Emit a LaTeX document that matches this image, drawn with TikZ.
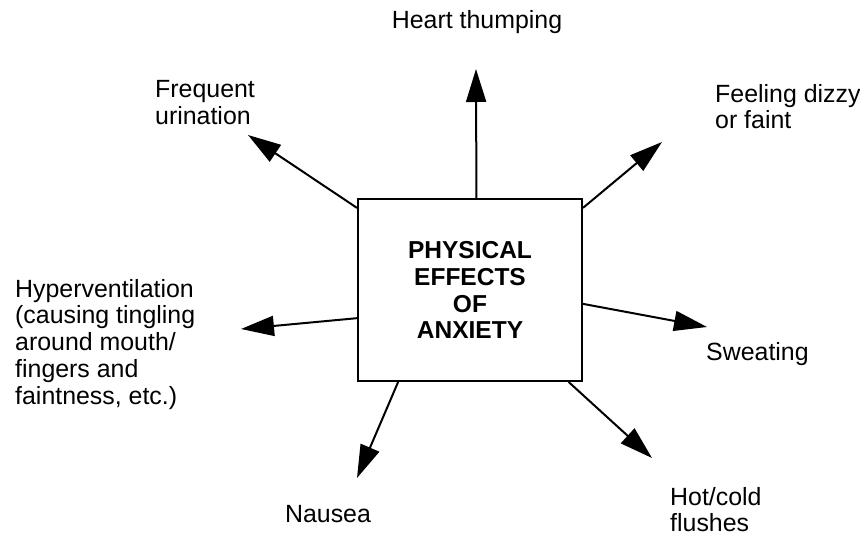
\documentclass[tikz,border=0pt]{standalone}
\usepackage{fontspec}
\setmainfont{Liberation Sans}
\usetikzlibrary{arrows.meta, positioning, calc}
\tikzset{
    effectbox/.style={
        rectangle, minimum width=224bp, minimum height=182bp,
        draw=black, line width=2bp, align=center,
        font=\fontsize{24.6}{27}\selectfont\bfseries
    },
    symptom/.style={
        inner sep=0pt, align=left, font=\fontsize{25}{26.8}\selectfont
    },
    arrow/.style={
        -{Triangle[length=33bp, width=20bp]}, line width=2bp, draw=black
    }
}

\begin{document}
\begin{tikzpicture}[x=1bp, y=-1bp]
    \useasboundingbox (0,0) rectangle (860,536);

    \node[effectbox] (box) at (470,290) {PHYSICAL\\EFFECTS\\OF\\ANXIETY};

    \node[symptom, anchor=north]      (heart)  at (477,10)  {Heart thumping};
    \node[symptom, anchor=north west] (freq)   at (155,80)  {Frequent\\urination};
    \node[symptom, anchor=north west] (dizzy)  at (715,84)  {Feeling dizzy\\or faint};
    \node[symptom, anchor=north west] (hyper)  at (15,279)  {Hyperventilation\\(causing tingling\\around mouth/\\fingers and\\faintness, etc.)};
    \node[symptom, anchor=north west] (sweat)  at (706,342) {Sweating};
    \node[symptom, anchor=north]      (nausea) at (328,505) {Nausea};
    \node[symptom, anchor=north west] (hot)    at (670,487) {Hot/cold\\flushes};

    % arrow tips
    \coordinate (tipheart)  at (476,69);
    \coordinate (tipfreq)   at (248,135);
    \coordinate (tipdizzy)  at (662,142);
    \coordinate (tiphyper)  at (241,329);
    \coordinate (tipsweat)  at (707,327);
    \coordinate (tipnausea) at (357,478);
    \coordinate (tiphot)    at (652,458);

    \draw[arrow] (box.86)  -- (tipheart);
    \draw[arrow] (box.144) -- (tipfreq);
    \draw[arrow] (box.36)  -- (tipdizzy);
    \draw[arrow] (box.194) -- (tiphyper);
    \draw[arrow] (box.353) -- (tipsweat);
    \draw[arrow] (box.232) -- (tipnausea);
    \draw[arrow] (box.317) -- (tiphot);

\end{tikzpicture}
\end{document}
